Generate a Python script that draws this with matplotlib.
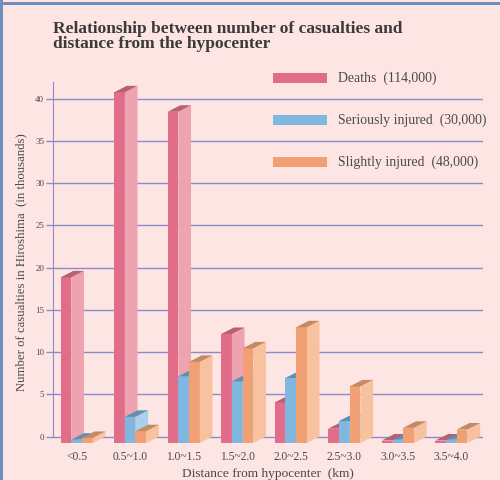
import numpy as np
import matplotlib
matplotlib.use("Agg")
from matplotlib import pyplot as plt
from matplotlib.patches import Polygon, Rectangle

# casualties in Hiroshima, thousands, by distance from hypocenter
distances = ["<0.5", "0.5~1.0", "1.0~1.5", "1.5~2.0", "2.0~2.5", "2.5~3.0", "3.0~3.5", "3.5~4.0"]
deaths = [19.6, 41.5, 39.2, 12.9, 4.8, 1.7, 0.3, 0.3]
seriously = [0.4, 3.1, 7.9, 7.3, 7.7, 2.6, 0.4, 0.4]
slightly = [0.6, 1.4, 9.6, 11.2, 13.7, 6.7, 1.8, 1.6]
legend_labels = ["Deaths  (114,000)", "Seriously injured  (30,000)", "Slightly injured  (48,000)"]

serif = ["Liberation Serif", "DejaVu Serif"]
bg = "#fde5e3"
grid_c = "#8b8bc6"
txt_c = "#4a4a4a"

# front, side, top colours per series
cols = [("#e26d8a", "#eea3b0", "#b8606e"),
        ("#7fb7e0", "#a9d0ec", "#5f90b4"),
        ("#f0a072", "#f8c2a0", "#c48a62")]

fig = plt.figure(figsize=(5, 4.8), dpi=100, facecolor=bg)
ax = fig.add_axes([0.105, 0.077, 0.861, 0.753])
ax.set_facecolor(bg)

x = np.arange(len(distances))
w = 0.2
dx = 0.237   # depth offset, x
dy = 0.77    # depth offset, y (thousands)

# back edge of each box sits on the gridline plane, front edge is shifted down by dy
for i, vals in enumerate([deaths, seriously, slightly]):
    front, side, top = cols[i]
    xs = x + (i - 1) * w
    ax.bar(xs, vals, bottom=-dy, width=w, color=front, zorder=3 + i, lw=0)
    for xc, v in zip(xs, vals):
        xr = xc + w / 2
        xl = xc - w / 2
        ax.add_patch(Polygon([(xr, -dy), (xr + dx, 0), (xr + dx, v), (xr, v - dy)],
                             closed=True, fc=side, ec="none", zorder=3 + i))
        ax.add_patch(Polygon([(xl, v - dy), (xr, v - dy), (xr + dx, v), (xl + dx, v)],
                             closed=True, fc=top, ec="none", zorder=3 + i))

ax.set_xlim(-0.45, 7.59)
ax.set_ylim(-dy, 42.0)
ax.set_yticks(np.arange(0, 41, 5))
ax.set_xticks(x)
ax.set_xticklabels(distances)
ax.grid(axis="y", color=grid_c, lw=1.0, zorder=0)
ax.set_axisbelow(True)
for s in ["top", "right", "bottom"]:
    ax.spines[s].set_visible(False)
ax.spines["left"].set_color(grid_c)
ax.spines["left"].set_bounds(0, 42)
ax.tick_params(axis="y", length=5, color=grid_c, width=1.0, pad=1, labelsize=6.5, labelcolor=txt_c)
ax.tick_params(axis="x", length=0, pad=6, labelsize=8.3, labelcolor=txt_c)
for lab in ax.get_xticklabels() + ax.get_yticklabels():
    lab.set_family(serif)

ax.set_xlabel("Distance from hypocenter  (km)", family=serif, fontsize=9.6, color=txt_c, labelpad=3)
ax.set_ylabel("Number of casualties in Hiroshima  (in thousands)", family=serif, fontsize=9.2,
              color=txt_c, labelpad=6)

fig.text(0.106, 1 - 33 / 480, "Relationship between number of casualties and",
         family=serif, fontweight="bold", fontsize=12.5, color="#3a3a3a", va="baseline", ha="left")
fig.text(0.106, 1 - 48 / 480, "distance from the hypocenter",
         family=serif, fontweight="bold", fontsize=12.5, color="#3a3a3a", va="baseline", ha="left")

# legend drawn by hand
for i, lab in enumerate(legend_labels):
    yc = 1 - (78 + 42 * i) / 480
    fig.patches.append(Rectangle((273 / 500, yc - 5 / 480), 54 / 500, 10 / 480,
                                 transform=fig.transFigure, fc=cols[i][0], ec="none"))
    fig.text(338 / 500, yc, lab, family=serif, fontsize=9.9, color=txt_c, va="center", ha="left")

# frame on top and left edge
fig.patches.append(Rectangle((0, 1 - 5 / 480), 1, 2.5 / 480, transform=fig.transFigure,
                             fc="#6f8fc0", ec="none"))
fig.patches.append(Rectangle((0, 0), 2.5 / 500, 1, transform=fig.transFigure,
                             fc="#6f8fc0", ec="none"))

fig.savefig("out.png", dpi=100, facecolor=bg)
